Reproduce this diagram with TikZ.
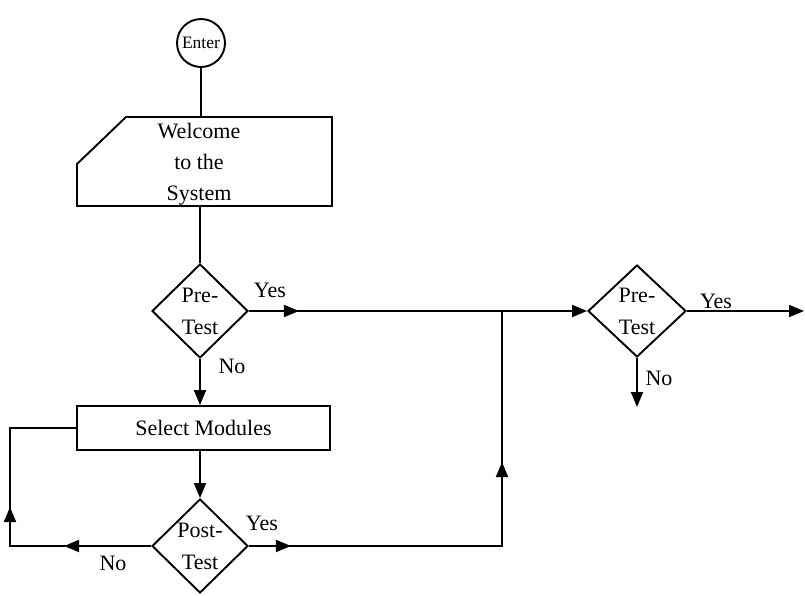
\documentclass[tikz,border=0pt]{standalone}
\usepackage{fontspec}
\setmainfont{Liberation Serif}
\usetikzlibrary{shapes.geometric,arrows.meta,decorations.markings}
\begin{document}
\begin{tikzpicture}[x=1pt,y=-1pt,
  line width=1.9pt,
  every node/.style={font=\fontsize{22}{32}\selectfont},
  flowtip/.tip={Triangle[length=15pt,width=12pt]},
  flow/.style={draw,-flowtip},
  midarrow/.style={postaction={decorate,decoration={markings,mark=at position #1 with {\arrow{flowtip}}}}},
  decision/.style={diamond,draw,inner sep=0pt,minimum width=96pt,minimum height=94pt,align=center},
  process/.style={rectangle,draw,minimum width=253pt,minimum height=44pt},
]
\useasboundingbox (0,0) rectangle (805,595);

% nodes
\node[circle,draw,minimum size=48pt,inner sep=0pt,font=\fontsize{17.5}{20}\selectfont] (enter) at (201,43) {Enter};
\node[inner sep=0pt,align=center,font=\fontsize{22}{31}\selectfont] (welcome) at (199,164) {Welcome\\to the\\System};
\coordinate (wtop) at (201,117);
\coordinate (wbot) at (201,206);
\draw (126,117) -- (332,117) -- (332,206) -- (77,206) -- (77,164) -- cycle;
\node[decision] (pre1) at (200,311) {Pre-\\Test};
\node[process] (sel) at (203.5,428) {Select Modules};
\node[decision] (post) at (200,546) {Post-\\Test};
\node[decision,minimum width=98pt,minimum height=92pt] (pre2) at (637,311) {Pre-\\Test};

% labels
\node (yes1) at (270,290) {Yes};
\node (no1) at (232,366) {No};
\node (yes2) at (262,523) {Yes};
\node (no2) at (113,563) {No};
\node (yes3) at (716,301) {Yes};
\node (no3) at (659,378) {No};

% free ends
\coordinate (J) at (502,311);
\coordinate (L) at (10,428);
\coordinate (out) at (804,311);
\coordinate (down) at (639,407);

% connectors
\draw (enter.south) -- (enter.south |- wtop);
\draw (wbot -| pre1.north) -- (pre1.north);
\draw[flow] (pre1.south) -- (pre1.south |- sel.north);
\draw[flow] (sel.south -| post.north) -- (post.north);
\draw[flow,midarrow=50pt] (pre1.east) -- (pre2.west);
\draw[midarrow=87pt,midarrow=180pt] (post.west) -| (L) -- (sel.west);
\draw[midarrow=42pt,midarrow=337pt] (post.east) -| (J);
\draw[flow] (pre2.east) -- (out);
\draw[flow] (pre2.south) -- (pre2.south |- down);
\end{tikzpicture}
\end{document}
